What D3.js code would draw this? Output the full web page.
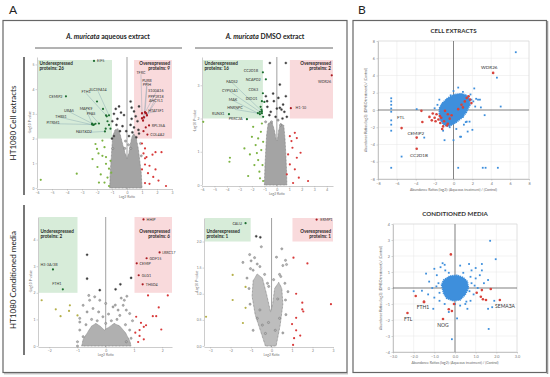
<!DOCTYPE html>
<html>
<head>
<meta charset="utf-8">
<script src="https://cdn.jsdelivr.net/npm/d3@7"></script>
<style>
body { margin: 0; background: #fff; }
svg { display: block; font-family: Lato, "Open Sans", sans-serif; }
</style>
</head>
<body>
<script>
// ---- volcano plots (Log2 ratio, -Log10 p-value) ----
// dense grey mass of non-changing proteins, read as an outline
var aqCellCloud = [[-1.15,0],[-1.12,0.6],[-1.05,1.2],[-1.0,1.7],[-0.95,2.1],[-0.8,2.35],[-0.6,2.4],[-0.45,2.15],[-0.3,1.8],[-0.15,1.45],[0,1.2],[0.12,1.4],[0.22,1.75],[0.32,2.05],[0.45,2.2],[0.6,2.05],[0.75,1.6],[0.85,1.1],[0.95,0.6],[1.0,0]];
var aqCellGrey = [[-0.75,3.2],[-0.53,3.3],[-0.87,3.0],[-0.4,3.05],[-0.64,2.8],[-0.2,2.95],[-0.98,2.7],[-0.7,2.55],[-0.3,2.5],[-0.47,2.3],[-0.87,2.1],[0.31,3.25],[0.47,3.1],[0.58,2.9],[0.31,2.8],[0.7,2.7],[0.24,2.55],[0.47,2.45],[0.76,2.35],[0.36,2.25],[0.13,2.1],[0.62,2.05],[0.8,2.2],[-0.1,1.9],[-0.15,1.6],[0.1,1.75],[0.9,1.8],[-1.0,2.0],[0.25,1.6],[-0.95,1.6],[0.95,1.3],[-0.05,2.3],[0.8,3.3],[0.24,3.5]];
var aqCellDown = [[-5.75,0.33],[-3.35,0.58],[-2.3,1.17],[-2.0,1.58],[-1.9,1.4],[-1.64,1.3],[-1.4,0.98],[-1.2,0.78],[-1.75,0.55],[-1.3,0.42],[-1.5,0.22],[-1.2,0.08],[-2.1,1.78],[-1.64,1.92],[-1.5,1.65],[-1.4,1.25],[-1.97,0.85],[-1.1,1.1],[-1.05,0.62],[-1.87,0.22],[-2.0,3.5],[-1.6,3.2],[-1.35,2.9],[-2.1,2.6],[-1.2,2.55],[-1.3,2.7],[-1.1,2.4],[-1.42,2.4]];
var aqCellUp = [[1.0,1.8],[1.2,1.6],[1.1,1.4],[1.3,1.25],[1.7,1.35],[1.9,1.45],[1.2,0.95],[1.5,0.9],[1.0,0.75],[1.4,0.6],[1.75,0.45],[2.1,0.3],[1.2,0.2],[2.6,0.08],[1.5,0.17],[1.9,0.75],[2.3,1.45],[1.2,1.2],[1.0,3.02],[1.13,2.86],[1.2,3.06],[1.0,2.82],[1.33,2.94],[1.07,2.73],[1.27,3.02],[1.1,2.3],[1.25,2.45]];
// [name, log2 ratio, -log10 p, label x, label y, text anchor, callout line]
var aqCellLabels = [
  ["EIF5",-2.2,5.14,-2.0,5.14,"start",false],
  ["CEMIP2",-4.07,3.71,-4.3,3.71,"end",false],
  ["FTH1",-1.4,2.94,-2.73,3.88,"middle",true],
  ["SLC39A14",-1.2,2.94,-1.93,3.96,"middle",true],
  ["MAPK9",-2.33,2.61,-2.73,3.22,"middle",true],
  ["UBA5",-2.2,2.57,-3.87,3.14,"middle",true],
  ["PFAS",-1.87,2.61,-2.4,3.02,"middle",true],
  ["THBS1",-2.25,2.55,-4.4,2.9,"middle",true],
  ["PITRM1",-2.33,2.57,-4.93,2.65,"middle",true],
  ["FASTKD2",-1.47,2.29,-2.87,2.29,"middle",true],
  ["TFRC",1.0,3.02,0.93,4.65,"middle",true],
  ["PURB",1.13,2.86,1.33,4.33,"middle",true],
  ["PPIH",1.2,3.06,1.33,4.16,"middle",true],
  ["S100A16",1.0,2.82,1.93,3.92,"middle",true],
  ["PPP1R18",1.33,2.94,1.93,3.71,"middle",true],
  ["AHCYL1",1.07,2.73,1.93,3.55,"middle",true],
  ["HTATSF1",1.27,3.02,1.93,3.14,"middle",true],
  ["RPL35A",1.47,2.53,1.65,2.53,"start",false],
  ["COL4A2",1.36,2.16,1.55,2.16,"start",false]
];

var dmCellCloud = [[-1.0,0],[-0.95,0.6],[-0.88,1.1],[-0.82,1.5],[-0.7,1.85],[-0.4,1.9],[-0.2,1.65],[-0.05,1.35],[0.05,1.35],[0.15,1.65],[0.3,1.85],[0.55,1.8],[0.65,1.4],[0.72,0.9],[0.78,0.4],[0.8,0]];
var dmCellGrey = [[-0.56,3.67],[0.72,3.67],[-0.24,2.52],[0.24,2.32],[0.37,2.27],[0.5,2.42],[0.12,2.62],[0.24,3.02],[0.72,2.67],[-0.76,2.35],[-0.49,2.2],[-0.1,2.05],[0.45,2.0],[-0.43,1.9],[0.3,1.8],[-0.88,2.67],[-0.78,2.52],[-0.6,2.1],[0.6,2.2],[0.0,2.3],[-0.3,2.75],[0.1,1.95],[0.8,2.05],[-0.9,1.9]];
var dmCellDown = [[-1.28,1.6],[-1.5,1.4],[-1.1,1.3],[-1.7,1.2],[-2.16,0.92],[-3.76,0.82],[-3.8,0.7],[-1.8,0.6],[-1.4,0.4],[-2.3,0.27],[-1.1,0.12],[-1.6,0.96],[-2.0,1.45],[-1.25,1.05],[-1.5,0.75],[-1.15,0.6],[-1.9,1.75],[-1.2,1.85],[-1.35,0.2],[-2.6,1.1],[-1.0,2.5],[-1.23,2.27],[-1.36,2.2],[-5.9,1.9],[-1.1,2.05],[-1.3,2.35]];
var dmCellUp = [[1.04,1.47],[1.44,1.57],[1.17,1.32],[1.6,1.41],[1.25,1.12],[0.9,0.92],[1.6,0.82],[1.04,0.62],[1.44,0.47],[0.8,0.32],[1.76,0.22],[2.5,0.12],[1.3,0.06],[1.9,0.97]];
var dmCellLabels = [
  ["CC2D1B",-1.12,3.39,-1.5,3.45,"end",false],
  ["NCAPD2",-0.88,3.18,-1.3,3.18,"end",false],
  ["CD63",-1.12,2.76,-1.5,2.86,"end",false],
  ["DIDO1",-1.2,2.52,-1.55,2.6,"end",false],
  ["FADS2",-1.2,2.22,-3.6,3.12,"middle",true],
  ["CYP51A1",-1.2,2.16,-3.76,2.85,"middle",true],
  ["MAK",-1.36,2.13,-3.52,2.58,"middle",true],
  ["HNRNPC",-1.52,2.16,-3.36,2.31,"middle",true],
  ["RUNX1",-3.84,2.13,-4.2,2.13,"end",false],
  ["PRRC2A",-2.4,1.98,-2.75,1.98,"end",false],
  ["WDR26",4.4,3.3,4.35,3.1,"end",false],
  ["H1-10",1.12,2.31,1.5,2.31,"start",false]
];

var aqMedCloud = [[-0.85,0],[-0.8,0.25],[-0.65,0.5],[-0.5,0.75],[-0.35,0.85],[-0.2,0.75],[-0.05,0.6],[0.1,0.7],[0.3,0.85],[0.5,0.75],[0.7,0.5],[0.85,0.2],[0.9,0]];
var aqMedGrey = [[-0.66,3.43],[-0.66,2.53],[-0.21,2.1],[0.35,2.13],[0.52,2.32],[0.9,2.56],[-0.6,1.9],[-0.57,1.72],[0.55,1.8],[0.66,1.72],[0.75,1.87],[0.34,1.54],[-0.39,1.85],[-0.21,1.72],[-0.8,1.53],[-0.45,1.41],[-0.66,1.28],[-0.25,1.28],[0.26,1.47],[0.44,1.35],[0.62,1.53],[0.73,1.35],[0.85,1.22],[-0.92,1.04],[-0.92,0.6],[-0.8,0.35],[-1.0,0.16],[0.85,0.6],[0.9,0.29],[0.73,0.16],[0.0,1.6],[-1.0,0.0],[-0.92,0.9],[0.1,1.2],[-0.1,1.1],[0.5,1.15],[0.95,0.95],[-0.5,1.0],[-0.3,0.95],[0.2,0.95],[0.4,1.0],[-0.7,0.8],[0.7,0.8],[0.0,0.85]];
var aqMedDown = [[-2.27,1.72],[-1.77,1.38],[-1.6,1.12],[-1.27,1.53],[-1.3,1.32],[-1.0,1.15]];
var aqMedUp = [[1.08,1.1],[1.25,0.87],[1.35,0.72],[1.2,0.6],[1.43,0.78],[1.79,1.12],[1.67,1.12],[1.88,1.45],[1.97,0.62],[1.2,0.38],[1.35,0.25],[2.2,1.9],[1.5,1.9],[1.05,0.5],[1.15,0.15]];
var aqMedLabels = [
  ["H3-3A/3B",-1.87,2.88,-2.01,3.07,"middle",false],
  ["FTH1",-1.52,2.13,-1.73,2.34,"middle",false],
  ["HHIP",1.34,4.76,1.45,4.76,"start",false],
  ["LRRC17",1.91,3.52,2.0,3.52,"start",false],
  ["GDF15",1.45,3.3,1.55,3.3,"start",false],
  ["CEMIP",1.1,3.11,1.2,3.11,"start",false],
  ["GLG1",1.17,2.66,1.28,2.66,"start",false],
  ["THSD4",1.31,2.32,1.42,2.32,"start",false]
];

var dmMedCloud = [[-0.3,0],[-0.55,0.3],[-0.8,0.6],[-0.95,0.95],[-0.9,1.25],[-0.7,1.38],[-0.45,1.3],[-0.25,1.0],[-0.05,0.65],[0.05,0.8],[0.15,1.1],[0.35,1.22],[0.5,1.1],[0.55,0.8],[0.42,0.4],[0.22,0]];
var dmMedGrey = [[-0.75,2.1],[-0.55,2.08],[-0.5,1.9],[0.5,1.86],[0.24,1.7],[0.73,1.56],[-1.4,1.6],[-1.03,1.48],[-1.07,1.75],[-0.83,1.69],[-1.0,1.63],[-0.7,1.57],[-0.57,1.52],[-0.9,1.45],[-0.34,1.37],[0.39,1.37],[0.55,1.54],[0.68,1.64],[0.45,1.33],[0.1,1.27],[-0.14,1.14],[0.18,0.3],[-0.3,0.24],[-0.57,0.69],[-0.7,0.53],[0.39,0.53],[0.68,0.88],[0.8,1.04],[-1.2,1.3],[-1.1,1.1],[0.7,0.6],[-0.9,0.3],[-1.05,0.8],[0.65,1.2],[-0.2,1.2],[0.3,0.9],[-0.45,0.4],[0.55,0.25],[-0.15,0.45]];
var dmMedDown = [[-3.2,0.56],[-1.9,1.36],[-1.27,1.13],[-1.9,0.88],[-1.27,0.73],[-1.4,0.44]];
var dmMedUp = [[1.07,1.69],[1.75,1.58],[2.9,0.8],[1.2,1.0],[1.5,0.83],[1.5,0.7],[1.55,0.66],[1.2,0.54],[1.0,0.42],[1.2,0.3],[1.4,0.2],[1.1,0.15],[1.05,0.02]];
var dmMedLabels = [
  ["CALU",-1.27,2.35,-1.45,2.35,"end",false],
  ["ERMP1",2.2,2.42,2.38,2.42,"start",false]
];

// ---- panel B: DMSO vs aqueous abundance ratios ----
var cellCloud = [[-1.5,-0.4],[-1.4,-1.2],[-1.0,-1.75],[-0.5,-1.9],[0.2,-1.5],[0.9,-0.9],[1.35,-0.3],[1.7,0.5],[1.75,1.2],[1.4,1.7],[0.8,1.9],[0.1,1.8],[-0.6,1.4],[-1.2,0.8],[-1.5,0.2]];
var cellBlue = [[2.2,2.5],[2.4,1.3],[1.9,1.2],[2.8,1.2],[1.7,0.6],[1.0,-0.8],[1.3,-1.4],[1.5,-2.5],[0.8,-3.1],[-0.95,-3.5],[-0.4,-2.0],[-3.9,0.1],[5.0,0.4],[1.0,2.1],[-0.3,1.7],[0,2.2],[-0.7,1.2],[2.0,-2.3],[2.6,1.2],[2.1,1.0],[1.4,-1.35],[1.7,-1.35],[0.7,-3.1],[0,-3.5],[6.6,6.7],[4.6,3.75],[0.5,-6.7],[3.1,-6.7],[3.4,-6.7],[4.7,-6.7],[-6.6,1.36],[-6.6,1.0],[-6.6,0.6],[-6.6,0.17],[-6.6,-0.2],[-6.6,-1.2],[-6.6,-1.7],[-6.6,-2.4],[-6.6,-6.7],[-5.5,-5.4],[-3.1,-3.2],[-2.0,0.2],[2.9,0.3],[0.5,2.6],[-1.5,1.2],[3.3,-0.6],[-1.7,0.6],[1.8,1.8],[2.3,0.4],[0.3,-2.2],[-1.1,-2.4],[1.1,-1.7]];
var cellRed = [[-3.4,-0.1],[-3.3,-1.4],[-2.55,-0.8],[-2.2,-0.4],[-2.0,-0.9],[-1.8,-0.5],[-1.6,-1.1],[-1.45,-0.7],[-1.3,-0.9],[-1.4,-1.5],[-1.0,-1.3],[-1.1,-1.9],[-0.7,-1.8],[-0.9,-0.1],[-0.6,-0.5],[0.85,0.6],[1.2,1.0],[1.4,1.4],[1.75,1.2],[1.9,0.8],[1.0,0.3],[1.6,1.6],[-0.4,-1.0],[-0.2,-0.6],[-0.6,-1.6],[0.5,0.1],[-1.9,-1.3],[-1.2,-2.2],[-2.3,-1.2]];
var cellLabels = [
  ["WDR26",4.2,4.3,3.79,4.95],
  ["FTL",-5.5,-2.1,-5.58,-0.8],
  ["CEMIP2",-3.9,-3.2,-4.0,-2.75],
  ["CC2D1B",-3.9,-4.5,-3.65,-5.3]
];

var mediaCloud = [[-0.65,0.2],[-0.55,-0.35],[-0.4,-0.65],[-0.1,-0.8],[0.25,-0.75],[0.5,-0.4],[0.65,0],[0.6,0.4],[0.4,0.65],[0.1,0.8],[-0.25,0.75],[-0.55,0.5]];
var mediaBlue = [[1.7,2.95],[1.97,1.8],[1.63,-2.56],[-0.15,-3.2],[0.1,-1.9],[-1.0,1.2],[-0.5,1.45],[1.3,1.5],[1.3,1.1],[-1.6,-0.17],[-1.3,-0.4],[-1.1,0.0],[-1.25,0.4],[-0.88,0.8],[-0.7,1.3],[-0.47,1.1],[0.25,1.4],[0.68,1.5],[0.8,1.1],[1.0,1.25],[1.2,0.8],[1.0,0.6],[0.8,0.3],[1.6,0.5],[1.1,0.0],[0.9,-0.4],[0.75,-0.8],[0.5,-1.0],[0.25,-1.1],[-0.5,-1.0],[-0.75,-0.8],[-1.0,-0.6],[-2.0,-0.2],[-1.05,-1.3],[1.6,-1.3],[1.8,-1.2],[1.9,-0.8],[0.6,-1.3],[-0.3,-1.5],[1.4,0.3],[-1.4,0.9],[-0.6,1.55],[-0.8,0.3],[-0.75,-0.3],[0.75,0.7],[0.7,-0.2],[0.4,0.95],[-0.3,0.95],[0.0,-1.0],[-0.9,0.1],[0.95,0.15],[0.55,-0.85]];
var mediaRed = [[-0.2,2.1],[-0.3,-1.33],[-0.15,-1.44],[-0.05,-1.0],[1.05,-0.3],[1.3,-0.13],[1.35,-0.7],[1.5,-0.75],[1.73,-0.06],[-1.9,-0.5],[-1.5,-0.87],[1.25,-0.55]];
var mediaLabels = [
  ["FTL",-2.3,-1.56,-2.27,-1.95],
  ["FTH1",-1.5,-0.87,-1.55,-1.2],
  ["NOG",-0.58,-1.94,-0.58,-2.32],
  ["SEMA3A",2.17,-0.75,2.42,-1.12]
];

var svg = d3.select("body").append("svg")
    .attr("width", 550)
    .attr("height", 377);

// panel frames
svg.append("rect").attr("x", 3).attr("y", 20.5).attr("width", 344).attr("height", 352)
    .attr("fill", "none").attr("stroke", "#666").attr("stroke-width", 1.2);
svg.append("rect").attr("x", 353).attr("y", 20.5).attr("width", 193.5).attr("height", 352)
    .attr("fill", "none").attr("stroke", "#666").attr("stroke-width", 1.2);
svg.append("line").attr("x1", 547.5).attr("x2", 547.5).attr("y1", 21).attr("y2", 374)
    .attr("stroke", "#999").attr("stroke-width", 1.5);
svg.append("line").attr("x1", 4).attr("x2", 348).attr("y1", 373.8).attr("y2", 373.8)
    .attr("stroke", "#aaa").attr("stroke-width", 1);

svg.append("text").attr("x", 9).attr("y", 14).attr("font-size", 12).attr("fill", "#222").text("A");
svg.append("text").attr("x", 358).attr("y", 14).attr("font-size", 12).attr("fill", "#222").text("B");

// column titles
function colTitle(cx, x1, x2, rest) {
    var t = svg.append("text").attr("x", cx).attr("y", 39).attr("text-anchor", "middle")
        .attr("font-size", 6.8).attr("font-weight", 700).attr("fill", "#222");
    t.append("tspan").attr("font-style", "italic").text("A. muricata");
    t.append("tspan").text(rest);
    svg.append("line").attr("x1", x1).attr("x2", x2).attr("y1", 48).attr("y2", 48)
        .attr("stroke", "#555").attr("stroke-width", 0.9);
}
colTitle(108, 35, 182, " aqueous extract");
colTitle(265, 195, 333, " DMSO extract");

// row titles
function rowTitle(cy, y1, y2, label) {
    svg.append("text").attr("transform", "translate(16," + cy + ") rotate(-90)")
        .attr("text-anchor", "middle").attr("font-size", 8).attr("fill", "#222").text(label);
    svg.append("line").attr("x1", 24).attr("x2", 24).attr("y1", y1).attr("y2", y2)
        .attr("stroke", "#555").attr("stroke-width", 1.6);
}
rowTitle(123, 57, 195, "HT1080 Cell extracts");
rowTitle(280, 205, 355, "HT1080 Conditioned media");

function styleAxis(a) {
    a.attr("font-size", 3.4).attr("font-family", null);
    a.select(".domain").attr("stroke", "#aaa").attr("stroke-width", 0.6);
    a.selectAll(".tick line").attr("stroke", "#aaa").attr("stroke-width", 0.5);
    a.selectAll(".tick text").attr("fill", "#777");
}

function volcano(o) {
    var x = d3.scaleLinear().domain(o.xd).range([o.left, o.right]);
    var y = d3.scaleLinear().domain(o.yd).range([o.bottom, o.top]);
    var g = svg.append("g");
    var top = y(o.yd[1]) + o.boxPad;

    g.append("rect").attr("x", x(o.xd[0]) + 1).attr("y", top)
        .attr("width", x(o.underX) - x(o.xd[0]) - 1).attr("height", y(2) - top)
        .attr("fill", "#d7ecd9");
    g.append("rect").attr("x", x(o.overX)).attr("y", top)
        .attr("width", x(o.xd[1]) - x(o.overX)).attr("height", y(2) - top)
        .attr("fill", "#f9dadc");

    var fmt = o.yf || d3.format("d");
    var xa = g.append("g").attr("transform", "translate(0," + (o.bottom + 1) + ")")
        .call(d3.axisBottom(x).tickValues(o.xt).tickSize(1.5).tickSizeOuter(0).tickPadding(1).tickFormat(d3.format("d")));
    var ya = g.append("g").attr("transform", "translate(" + o.left + ",0)")
        .call(d3.axisLeft(y).tickValues(o.yt).tickSize(1.5).tickSizeOuter(0).tickPadding(1).tickFormat(fmt));
    styleAxis(xa);
    styleAxis(ya);
    g.append("text").attr("x", x(0)).attr("y", o.bottom + 10).attr("text-anchor", "middle")
        .attr("font-size", 3.4).attr("fill", "#777").text("Log2 Ratio");
    g.append("text").attr("transform", "translate(" + (o.left - 6) + "," + ((o.top + o.bottom) / 2) + ") rotate(-90)")
        .attr("text-anchor", "middle").attr("font-size", 3.4).attr("fill", "#777").text("-Log10 P-value");

    g.append("line").attr("x1", x(0)).attr("x2", x(0)).attr("y1", o.top).attr("y2", o.bottom + 1)
        .attr("stroke", "#777").attr("stroke-width", 0.7);

    // callout lines
    g.selectAll(".call").data(o.labels.filter(function(d) { return d[6]; }))
        .enter().append("line")
        .attr("x1", function(d) { return x(d[3]); })
        .attr("y1", function(d) { return y(d[4]) + 1.2; })
        .attr("x2", function(d) { return x(d[1]); })
        .attr("y2", function(d) { return y(d[2]); })
        .attr("stroke", "#6d95a6").attr("stroke-width", 0.35);

    g.append("path").datum(o.cloud)
        .attr("d", d3.line().x(function(d) { return x(d[0]); }).y(function(d) { return y(d[1]); }).curve(d3.curveLinearClosed))
        .attr("fill", o.cloudFill).attr("stroke", "#8a8a8a").attr("stroke-width", 0.9)
        .attr("stroke-dasharray", "0.8,0.6");

    function dots(data, fill, stroke) {
        g.selectAll(null).data(data).enter().append("circle")
            .attr("cx", function(d) { return x(d[0]); })
            .attr("cy", function(d) { return y(d[1]); })
            .attr("r", 1.1)
            .attr("fill", fill)
            .attr("stroke", stroke)
            .attr("stroke-width", 0.35);
    }
    dots(o.grey, function(d) { return d[1] >= 2 ? "#3b3b3b" : "#b4b4b4"; }, "#5a5a5a");
    dots(o.down, function(d) { return d[1] >= 2 ? "#1d6e31" : o.green; }, "none");
    dots(o.up, function(d) { return d[1] >= 2 ? "#a91b22" : "#d83a3a"; }, "none");
    dots(o.labels.map(function(d) { return [d[1], d[2]]; }),
        function(d) { return d[0] < 0 ? "#1d6e31" : "#a91b22"; }, "none");

    g.selectAll(null).data(o.labels).enter().append("text")
        .attr("x", function(d) { return x(d[3]); })
        .attr("y", function(d) { return y(d[4]); })
        .attr("dy", "0.35em")
        .attr("text-anchor", function(d) { return d[5]; })
        .attr("font-size", 3.7)
        .attr("fill", "#333")
        .text(function(d) { return d[0]; });

    var ly = top + (o.headerDrop || 4.5);
    var t1 = g.append("text").attr("x", x(o.xd[0]) + 2.5).attr("y", ly)
        .attr("font-size", 4.6).attr("font-weight", 700).attr("fill", "#1f2a1f");
    t1.append("tspan").text("Underexpressed");
    t1.append("tspan").attr("x", x(o.xd[0]) + 2.5).attr("dy", 5).text("proteins: " + o.nDown);
    var t2 = g.append("text").attr("x", x(o.xd[1]) - 2).attr("y", ly).attr("text-anchor", "end")
        .attr("font-size", 4.6).attr("font-weight", 700).attr("fill", "#2a1f1f");
    t2.append("tspan").text("Overexpressed");
    t2.append("tspan").attr("x", x(o.xd[1]) - 2).attr("dy", 5).text("proteins: " + o.nUp);
}

volcano({left: 37, right: 172, top: 57, bottom: 188, xd: [-6, 3], yd: [0, 5.3],
    xt: d3.range(-6, 4), yt: d3.range(0, 6), underX: -1.0, overX: 0.47, boxPad: 3,
    cloud: aqCellCloud, cloudFill: "#a4a4a4", grey: aqCellGrey, down: aqCellDown, up: aqCellUp,
    labels: aqCellLabels, green: "#7cb342", nDown: 26, nUp: 9});
volcano({left: 202, right: 333, top: 57, bottom: 185, xd: [-6, 4.5], yd: [0, 3.85],
    xt: d3.range(-6, 5), yt: d3.range(0, 4), underX: -1.12, overX: 1.04, boxPad: 3,
    cloud: dmCellCloud, cloudFill: "#a4a4a4", grey: dmCellGrey, down: dmCellDown, up: dmCellUp,
    labels: dmCellLabels, green: "#7cb342", nDown: 16, nUp: 2});
volcano({left: 38, right: 172, top: 217, bottom: 346, xd: [-2.4, 2.35], yd: [0, 4.85],
    xt: d3.range(-2, 3), yt: d3.range(0, 5), underX: -1.0, overX: 1.02, boxPad: 0,
    cloud: aqMedCloud, cloudFill: "#b0b0b0", grey: aqMedGrey, down: aqMedDown, up: aqMedUp,
    labels: aqMedLabels, green: "#b5b04a", nDown: 2, nUp: 6, headerDrop: 16});
volcano({left: 204, right: 333, top: 218, bottom: 346, xd: [-3.3, 3.0], yd: [0, 2.45],
    xt: d3.range(-3, 4), yt: [0, 0.5, 1, 1.5, 2], yf: d3.format(".1f"), underX: -1.02, overX: 1.02, boxPad: 0,
    cloud: dmMedCloud, cloudFill: "#bdbdbd", grey: dmMedGrey, down: dmMedDown, up: dmMedUp,
    labels: dmMedLabels, green: "#b5b04a", nDown: 1, nUp: 1, headerDrop: 15});

// ---- panel B scatter plots ----
function ratioPlot(o) {
    var x = d3.scaleLinear().domain(o.xd).range([o.left, o.right]);
    var y = d3.scaleLinear().domain(o.yd).range([o.bottom, o.top]);
    var g = svg.append("g");

    g.selectAll(null).data(o.xt).enter().append("line")
        .attr("x1", function(d) { return x(d); }).attr("x2", function(d) { return x(d); })
        .attr("y1", o.top).attr("y2", o.bottom)
        .attr("stroke", "#e6e6e6").attr("stroke-width", 0.5);
    g.selectAll(null).data(o.yt).enter().append("line")
        .attr("y1", function(d) { return y(d); }).attr("y2", function(d) { return y(d); })
        .attr("x1", o.left).attr("x2", o.right)
        .attr("stroke", "#e6e6e6").attr("stroke-width", 0.5);
    g.append("rect").attr("x", o.left).attr("y", o.top)
        .attr("width", o.right - o.left).attr("height", o.bottom - o.top)
        .attr("fill", "none").attr("stroke", "#d4d4d4").attr("stroke-width", 0.5);

    var xa = g.append("g").attr("transform", "translate(0," + o.bottom + ")")
        .call(d3.axisBottom(x).tickValues(o.xt).tickSize(1.5).tickSizeOuter(0).tickPadding(1.5));
    var ya = g.append("g").attr("transform", "translate(" + o.left + ",0)")
        .call(d3.axisLeft(y).tickValues(o.yt).tickSize(1.5).tickSizeOuter(0).tickPadding(1.5));
    styleAxis(xa);
    styleAxis(ya);
    xa.attr("font-size", 3.8);
    ya.attr("font-size", 3.8);

    g.append("line").attr("x1", x(0)).attr("x2", x(0)).attr("y1", o.top).attr("y2", o.bottom)
        .attr("stroke", "#555").attr("stroke-width", 0.7);
    g.append("line").attr("y1", y(0)).attr("y2", y(0)).attr("x1", o.left).attr("x2", o.right)
        .attr("stroke", "#555").attr("stroke-width", 0.7);

    g.append("text").attr("x", (o.left + o.right) / 2).attr("y", o.top - 8)
        .attr("text-anchor", "middle").attr("font-size", 6.2).attr("font-weight", 700)
        .attr("fill", "#333").text(o.title);
    g.append("text").attr("x", (o.left + o.right) / 2).attr("y", o.bottom + 12)
        .attr("text-anchor", "middle").attr("font-size", 3.5).attr("fill", "#666")
        .text("Abundance Ratios (log2): (Aqueous treatment) / (Control)");
    g.append("text").attr("transform", "translate(" + (o.left - 11) + "," + ((o.top + o.bottom) / 2) + ") rotate(-90)")
        .attr("text-anchor", "middle").attr("font-size", 3.5).attr("fill", "#666")
        .text("Abundance Ratios (log2): (DMSO treatment) / (Control)");

    g.append("path").datum(o.cloud)
        .attr("d", d3.line().x(function(d) { return x(d[0]); }).y(function(d) { return y(d[1]); }).curve(d3.curveLinearClosed))
        .attr("fill", "#3e8fdc").attr("stroke", "#3e8fdc").attr("stroke-width", 1.6)
        .attr("stroke-dasharray", "1.2,0.8");

    g.selectAll(null).data(o.blue).enter().append("rect")
        .attr("x", function(d) { return x(d[0]) - 0.9; })
        .attr("y", function(d) { return y(d[1]) - 0.9; })
        .attr("width", 1.8).attr("height", 1.8)
        .attr("fill", "#3e8fdc");
    g.selectAll(null).data(o.red.concat(o.labels.map(function(d) { return [d[1], d[2]]; })))
        .enter().append("circle")
        .attr("cx", function(d) { return x(d[0]); })
        .attr("cy", function(d) { return y(d[1]); })
        .attr("r", 1.3)
        .attr("fill", "#d8433b");
    g.selectAll(null).data(o.labels).enter().append("text")
        .attr("x", function(d) { return x(d[3]); })
        .attr("y", function(d) { return y(d[4]); })
        .attr("dy", "0.35em").attr("text-anchor", "middle")
        .attr("font-size", o.labelSize).attr("fill", "#333")
        .text(function(d) { return d[0]; });
}

ratioPlot({left: 378, right: 529, top: 41, bottom: 179, xd: [-8, 8], yd: [-8, 8],
    xt: d3.range(-8, 9, 2), yt: d3.range(-8, 9, 2), title: "CELL EXTRACTS",
    cloud: cellCloud, blue: cellBlue, red: cellRed, labels: cellLabels, labelSize: 4.6});
ratioPlot({left: 393, right: 517, top: 224, bottom: 352, xd: [-3, 3], yd: [-4, 4],
    xt: d3.range(-3, 4), yt: d3.range(-4, 5), title: "CONDITIONED MEDIA",
    cloud: mediaCloud, blue: mediaBlue, red: mediaRed, labels: mediaLabels, labelSize: 5});
</script>
</body>
</html>
